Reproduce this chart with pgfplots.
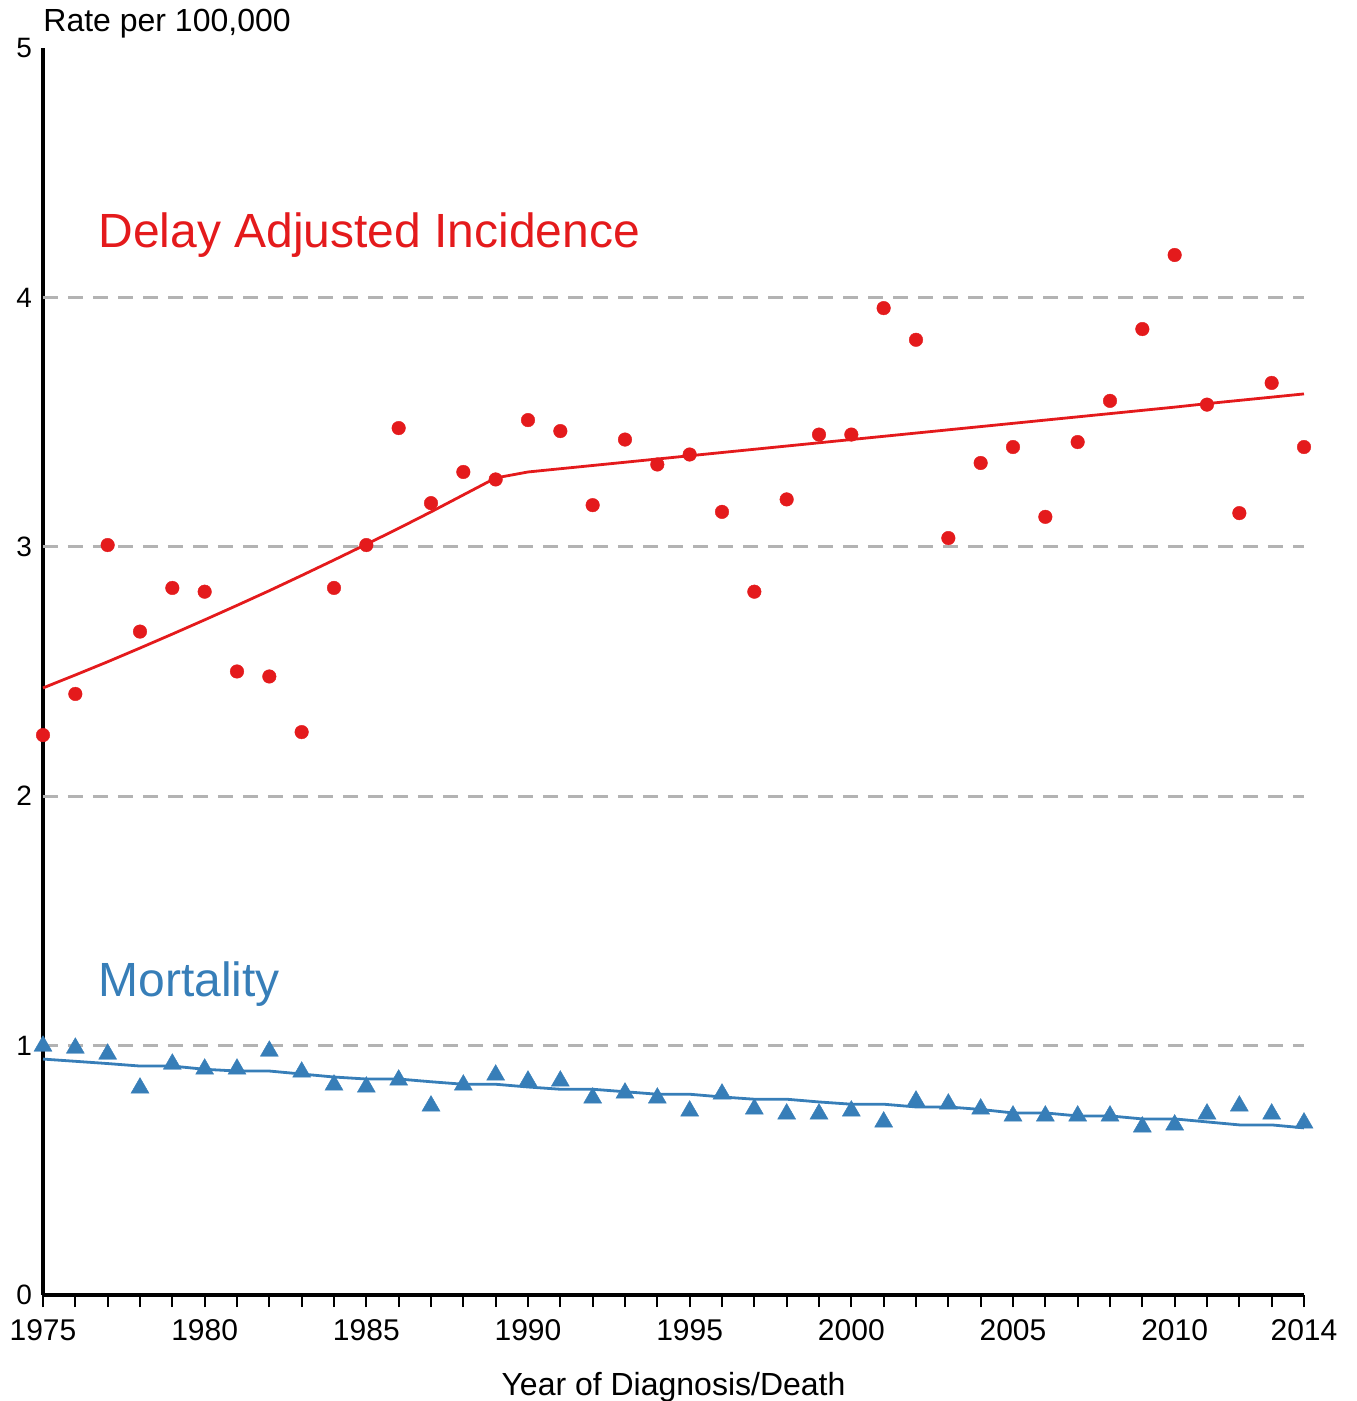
\documentclass[border=0pt]{standalone}
\usepackage{pgfplots}
\pgfplotsset{compat=1.18}
\usepackage{pgfplotstable}
\usepackage{fontspec}
\setmainfont{Liberation Sans}
\definecolor{incred}{HTML}{E41A1C}
\definecolor{mortblue}{HTML}{377EB8}
\definecolor{gridgray}{HTML}{B3B3B3}

\pgfplotstableread{
year inc
1975 2.245
1976 2.41
1977 3.007
1978 2.66
1979 2.835
1980 2.82
1981 2.50
1982 2.48
1983 2.257
1984 2.835
1985 3.007
1986 3.476
1987 3.175
1988 3.30
1989 3.27
1990 3.508
1991 3.464
1992 3.167
1993 3.43
1994 3.33
1995 3.37
1996 3.14
1997 2.82
1998 3.19
1999 3.45
2000 3.45
2001 3.957
2002 3.83
2003 3.035
2004 3.336
2005 3.40
2006 3.12
2007 3.42
2008 3.585
2009 3.873
2010 4.17
2011 3.57
2012 3.135
2013 3.657
2014 3.40
}\incpts

\pgfplotstableread{
year fit
1975 2.434
1976 2.486
1977 2.539
1978 2.594
1979 2.650
1980 2.707
1981 2.765
1982 2.824
1983 2.885
1984 2.947
1985 3.010
1986 3.074
1987 3.140
1988 3.208
1989 3.276
1990 3.300
1991 3.313
1992 3.326
1993 3.339
1994 3.352
1995 3.365
1996 3.378
1997 3.391
1998 3.404
1999 3.417
2000 3.430
2001 3.443
2002 3.456
2003 3.469
2004 3.482
2005 3.495
2006 3.508
2007 3.521
2008 3.534
2009 3.547
2010 3.560
2011 3.574
2012 3.587
2013 3.600
2014 3.613
}\incfit

\pgfplotstableread{
year mort
1975 0.998
1976 0.99
1977 0.966
1978 0.83
1979 0.926
1980 0.906
1981 0.906
1982 0.978
1983 0.894
1984 0.842
1985 0.834
1986 0.862
1987 0.758
1988 0.842
1989 0.882
1990 0.858
1991 0.858
1992 0.79
1993 0.81
1994 0.79
1995 0.738
1996 0.806
1997 0.746
1998 0.726
1999 0.726
2000 0.738
2001 0.694
2002 0.778
2003 0.766
2004 0.746
2005 0.718
2006 0.718
2007 0.718
2008 0.718
2009 0.674
2010 0.682
2011 0.726
2012 0.758
2013 0.726
2014 0.69
}\mortpts

\pgfplotstableread{
year fit
1975 0.946
1976 0.937
1977 0.928
1978 0.918
1979 0.918
1980 0.905
1981 0.898
1982 0.898
1983 0.886
1984 0.874
1985 0.866
1986 0.866
1987 0.855
1988 0.845
1989 0.845
1990 0.834
1991 0.825
1992 0.825
1993 0.815
1994 0.805
1995 0.805
1996 0.794
1997 0.785
1998 0.785
1999 0.774
2000 0.765
2001 0.765
2002 0.754
2003 0.754
2004 0.744
2005 0.730
2006 0.730
2007 0.718
2008 0.718
2009 0.706
2010 0.706
2011 0.694
2012 0.682
2013 0.682
2014 0.670
}\mortfit

\begin{document}
\begin{tikzpicture}
\begin{axis}[
  scale only axis, width=630.5pt, height=623.5pt,
  xmin=1975, xmax=2014, ymin=0, ymax=5,
  axis x line*=bottom, axis y line*=left,
  axis line style={line width=1.8pt, black},
  xtick={1975,1980,1985,1990,1995,2000,2005,2010,2014},
  minor xtick={1975,...,2014},
  ytick={0,1,2,3,4,5},
  tick align=outside,
  major tick length=6pt, minor tick length=6pt,
  xtick style={line width=1pt, black},
  ytick style={draw=none},
  /pgf/number format/assume math mode=true,
  /pgf/number format/1000 sep={},
  xticklabel style={font=\fontsize{15}{18}\selectfont, yshift=-2.5pt},
  yticklabel style={font=\fontsize{14}{17}\selectfont, xshift=4pt},
  clip=false,
]
\draw[gridgray, line width=1.5pt, dash pattern=on 7.5pt off 5pt] (axis cs:1975,1) -- (axis cs:2014,1);
\draw[gridgray, line width=1.5pt, dash pattern=on 7.5pt off 5pt] (axis cs:1975,2) -- (axis cs:2014,2);
\draw[gridgray, line width=1.5pt, dash pattern=on 7.5pt off 5pt] (axis cs:1975,3) -- (axis cs:2014,3);
\draw[gridgray, line width=1.5pt, dash pattern=on 7.5pt off 5pt] (axis cs:1975,4) -- (axis cs:2014,4);

\addplot[incred, line width=1.4pt, no marks] table[x=year, y=fit] {\incfit};
\addplot[incred, only marks, mark=*, mark size=3.4pt, mark options={incred, fill=incred, line width=0.2pt}] table[x=year, y=inc] {\incpts};
\addplot[mortblue, line width=1.4pt, no marks] table[x=year, y=fit] {\mortfit};
\addplot[mortblue, only marks, mark=triangle*, mark size=5.2pt, mark options={mortblue, fill=mortblue, line width=0.2pt}] table[x=year, y=mort] {\mortpts};

\node[anchor=base west, inner sep=0pt, text=incred, font=\fontsize{24}{28}\selectfont] at (axis cs:1976.70,4.202) {Delay Adjusted Incidence};
\node[anchor=base west, inner sep=0pt, text=mortblue, font=\fontsize{24}{28}\selectfont] at (axis cs:1976.70,1.195) {Mortality};
\node[anchor=base west, inner sep=0pt, font=\fontsize{16}{19}\selectfont] at ([yshift=8pt]rel axis cs:0,1) {Rate per 100,000};
\node[anchor=base, inner sep=0pt, font=\fontsize{16}{19}\selectfont] at ([yshift=-50pt]rel axis cs:0.5,0) {Year of Diagnosis/Death};
\end{axis}
\pgfresetboundingbox
\path[use as bounding box] (-21.5pt,-53pt) rectangle (656.5pt,647.5pt);
\end{tikzpicture}
\end{document}
